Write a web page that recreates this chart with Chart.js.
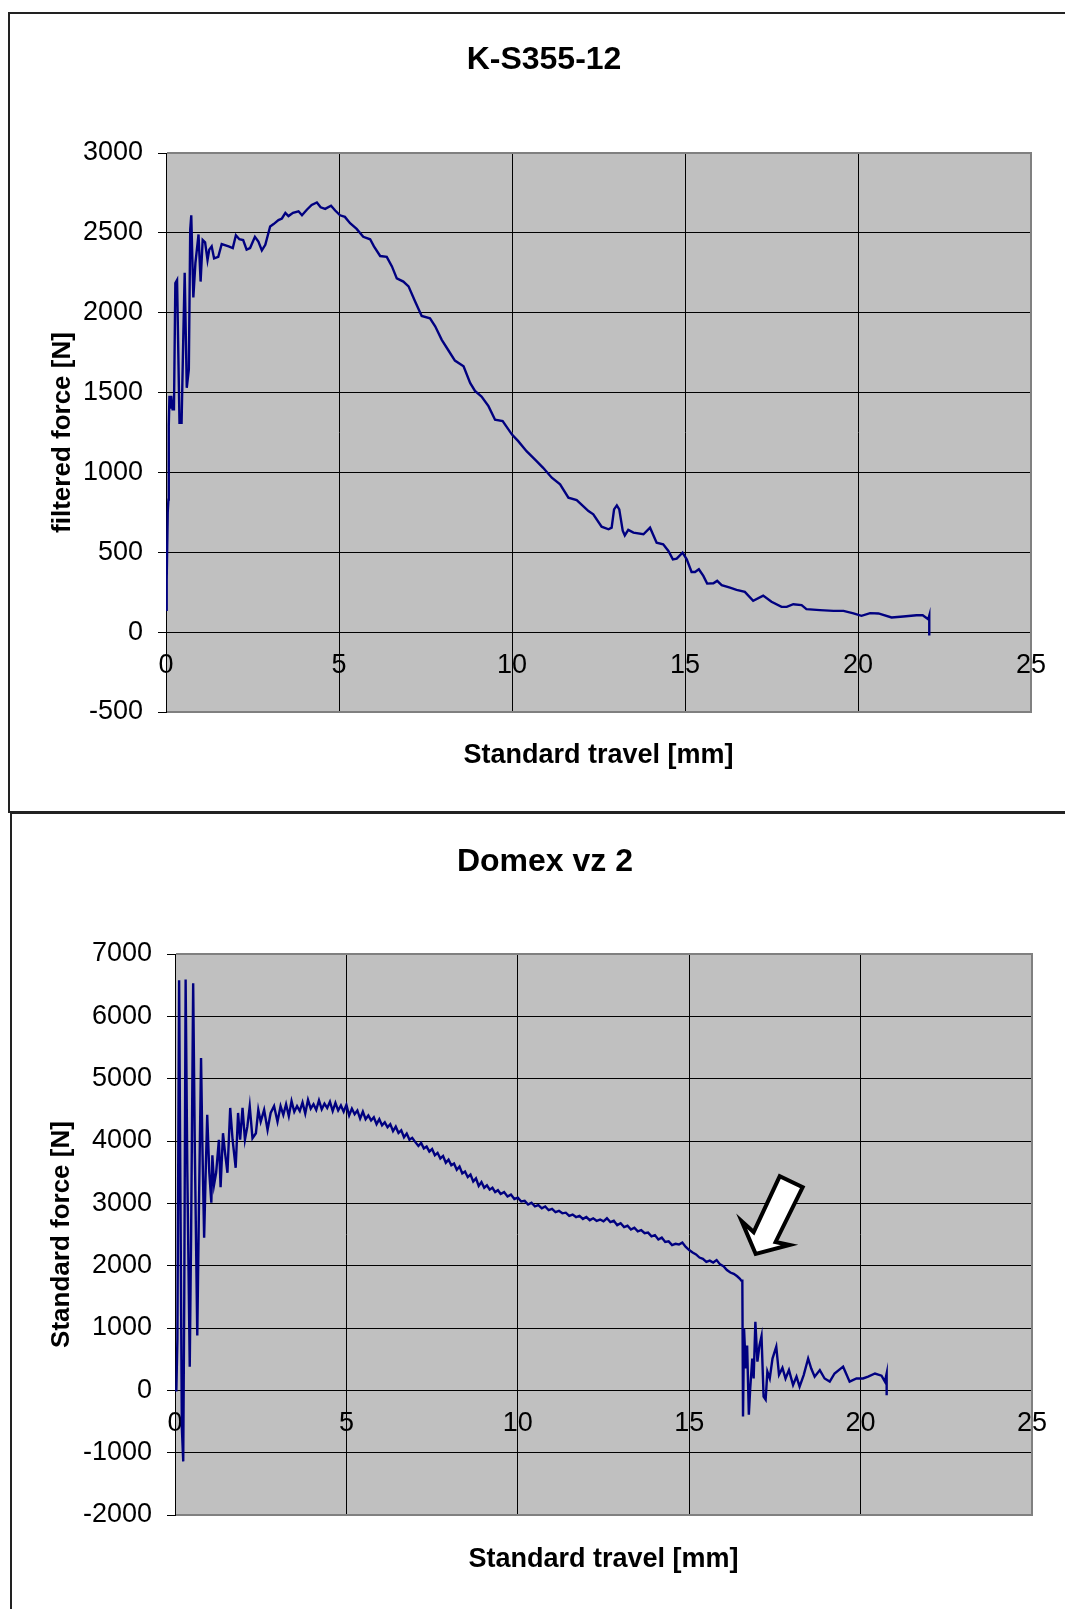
<!DOCTYPE html>
<html>
<head>
<meta charset="utf-8">
<script src="https://cdn.jsdelivr.net/npm/chart.js@4.4.1/dist/chart.umd.min.js"></script>
<style>
  html, body { margin:0; padding:0; background:#fff; overflow:hidden; width:1065px; height:1609px; }
  .panel { position:absolute; box-sizing:border-box; border:2px solid #222; background:#fff; }
  canvas { position:absolute; left:0; }
</style>
</head>
<body>
<div class="panel" style="left:8px;top:12px;width:1100px;height:801px;"></div>
<div class="panel" style="left:10px;top:812px;width:1100px;height:900px;"></div>
<canvas id="chartTop" width="1065" height="812" style="top:0px"></canvas>
<canvas id="chartBottom" width="1065" height="796" style="top:813px"></canvas>
<script>
// K-S355-12 : standard travel [mm] vs filtered force [N]
var travelA = [0.00,0.02,0.05,0.07,0.08,0.10,0.12,0.15,0.19,0.23,0.27,0.32,0.39,0.45,0.50,0.54,0.60,0.66,0.70,0.73,
  0.79,0.85,0.94,1.00,1.06,1.13,1.20,1.25,1.32,1.39,1.51,1.61,1.81,1.93,2.02,2.12,2.23,2.33,2.43,2.57,
  2.67,2.77,2.87,3.01,3.11,3.25,3.35,3.45,3.54,3.67,3.83,3.93,4.07,4.21,4.36,4.47,4.60,4.77,4.89,5.03,
  5.17,5.32,5.51,5.70,5.90,6.01,6.19,6.38,6.53,6.67,6.86,7.01,7.20,7.39,7.63,7.78,7.97,8.16,8.35,8.60,
  8.79,8.93,9.12,9.32,9.51,9.73,10.00,10.18,10.42,10.71,10.90,11.15,11.39,11.63,11.87,12.21,12.35,12.59,12.79,12.88,
  12.95,13.03,13.10,13.20,13.26,13.36,13.51,13.80,13.99,14.18,14.37,14.52,14.65,14.76,14.93,15.05,15.19,15.29,15.40,15.53,
  15.64,15.82,15.93,16.06,16.30,16.49,16.73,16.97,17.26,17.50,17.79,17.94,18.13,18.37,18.51,18.90,19.29,19.58,19.87,20.10,
  20.35,20.59,20.97,21.31,21.69,21.87,22.03,22.06,22.06];
var forceA = [140,330,750,830,1290,1480,1400,1480,1395,1395,2185,2205,1310,1310,1850,2250,1530,1645,2520,2610,
  2095,2310,2490,2195,2455,2440,2330,2395,2415,2340,2350,2430,2415,2405,2485,2460,2455,2395,2405,2475,
  2445,2390,2425,2540,2555,2580,2590,2625,2605,2625,2635,2610,2645,2675,2690,2660,2650,2670,2640,2610,
  2600,2560,2525,2475,2460,2415,2355,2350,2290,2215,2195,2165,2070,1980,1965,1915,1830,1765,1700,1665,
  1560,1510,1475,1415,1330,1321,1237,1196,1133,1071,1029,967,925,842,827,758,738,660,644,654,
  769,794,769,635,606,640,623,613,654,560,550,508,456,460,498,456,377,377,394,352,
  304,306,321,294,279,265,252,196,229,190,158,158,175,169,144,138,133,133,117,102,
  119,117,92,98,106,106,81,104,-21];

// Domex vz 2 : standard travel [mm] vs standard force [N]
var travelB = [0.00,0.04,0.07,0.12,0.16,0.20,0.24,0.27,0.31,0.36,0.43,0.47,0.53,0.58,0.65,0.70,0.76,0.80,0.85,0.90,
  0.94,1.00,1.06,1.09,1.14,1.20,1.28,1.33,1.40,1.46,1.53,1.61,1.68,1.77,1.84,1.90,1.97,2.04,2.11,2.18,
  2.26,2.36,2.43,2.50,2.60,2.70,2.79,2.89,2.99,3.08,3.16,3.24,3.32,3.40,3.48,3.56,3.64,3.72,3.80,3.88,
  3.96,4.04,4.12,4.20,4.28,4.36,4.44,4.52,4.60,4.68,4.76,4.84,4.92,5.00,5.08,5.16,5.24,5.32,5.40,5.48,
  5.56,5.64,5.72,5.80,5.88,5.96,6.04,6.12,6.20,6.28,6.36,6.44,6.52,6.60,6.68,6.76,6.84,6.92,7.00,7.10,
  7.18,7.26,7.34,7.42,7.50,7.58,7.66,7.74,7.82,7.90,7.98,8.06,8.14,8.22,8.30,8.38,8.46,8.54,8.62,8.70,
  8.78,8.86,8.94,9.02,9.10,9.18,9.26,9.34,9.42,9.50,9.60,9.70,9.80,9.90,10.00,10.10,10.20,10.30,10.40,10.50,
  10.60,10.70,10.80,10.90,11.00,11.10,11.20,11.30,11.40,11.50,11.60,11.70,11.80,11.90,12.00,12.10,12.20,12.30,12.40,12.50,
  12.60,12.70,12.80,12.90,13.00,13.10,13.20,13.30,13.40,13.50,13.60,13.70,13.80,13.90,14.00,14.10,14.20,14.30,14.40,14.50,
  14.60,14.70,14.80,14.90,15.00,15.10,15.20,15.30,15.40,15.50,15.60,15.70,15.80,15.90,16.00,16.10,16.20,16.30,16.40,16.48,
  16.52,16.55,16.57,16.60,16.65,16.69,16.74,16.78,16.84,16.88,16.93,16.99,17.05,17.11,17.17,17.23,17.28,17.35,17.43,17.54,
  17.62,17.72,17.81,17.91,18.03,18.13,18.22,18.34,18.47,18.56,18.66,18.81,18.95,19.10,19.24,19.49,19.68,19.88,20.07,20.22,
  20.42,20.61,20.71,20.76,20.76];
var forceB = [0,0,830,6580,3000,-600,-1140,1500,6590,3500,380,2500,6530,3800,880,3000,5330,3900,2450,3600,
  4420,3500,3010,3770,3300,3490,4020,3260,4125,3810,3490,4530,4020,3570,4450,4020,4530,4020,4230,4560,
  4045,4125,4500,4310,4500,4180,4450,4560,4310,4560,4420,4590,4400,4640,4470,4560,4480,4620,4440,4660,
  4520,4590,4500,4650,4510,4600,4530,4630,4480,4610,4490,4570,4470,4580,4410,4520,4430,4490,4360,4470,
  4350,4410,4330,4380,4270,4350,4250,4300,4220,4270,4160,4230,4130,4170,4060,4120,4020,4050,3990,3920,
  3970,3880,3910,3830,3870,3770,3810,3720,3760,3650,3700,3610,3640,3540,3590,3480,3510,3420,3460,3350,
  3400,3280,3340,3250,3290,3220,3250,3180,3210,3150,3180,3110,3140,3070,3090,3030,3040,2980,3010,2950,
  2970,2920,2950,2890,2910,2860,2880,2840,2850,2800,2820,2780,2800,2750,2780,2730,2760,2720,2740,2710,
  2760,2700,2720,2650,2680,2620,2640,2580,2610,2550,2570,2520,2530,2470,2490,2420,2450,2380,2390,2330,
  2350,2340,2370,2300,2250,2210,2180,2130,2110,2060,2080,2050,2090,2020,1990,1930,1890,1870,1830,1790,
  1760,1760,-420,990,350,720,-390,30,510,190,1100,460,720,870,-100,-150,300,190,510,700,
  250,360,190,325,85,220,60,245,510,350,220,325,190,140,270,380,140,190,190,220,
  270,235,140,270,-80];

// arrow annotation outline (data units of the Domex chart)
var arrowX = [16.94,16.53,16.88,17.64,18.31,17.52,17.93];
var arrowY = [2188,2715,2539,3434,3258,2380,2332];

var xTicksMax = 25;
var titleTop = 'K-S355-12';
var titleBottom = 'Domex vz 2';
var xTitle = 'Standard travel [mm]';

Chart.defaults.font.family = '"Liberation Sans", Arial, sans-serif';
Chart.defaults.color = '#000';

function toPoints(xs, ys){
  var pts = [];
  for(var i = 0; i < xs.length; i++) pts.push({x: xs[i], y: ys[i]});
  return pts;
}

// gray plot area with a gray frame on top, right and bottom (Excel look)
var plotFrame = {
  id: 'plotFrame',
  beforeDraw: function(chart){
    var a = chart.chartArea, ctx = chart.ctx;
    ctx.save();
    ctx.fillStyle = '#c0c0c0';
    ctx.fillRect(a.left, a.top, a.right - a.left, a.bottom - a.top);
    ctx.restore();
  },
  beforeDatasetsDraw: function(chart){
    var a = chart.chartArea, ctx = chart.ctx;
    ctx.save();
    ctx.strokeStyle = '#808080';
    ctx.lineWidth = 2;
    ctx.beginPath();
    ctx.moveTo(a.left + 1, a.top);
    ctx.lineTo(a.right, a.top);
    ctx.lineTo(a.right, a.bottom);
    ctx.lineTo(a.left + 1, a.bottom);
    ctx.stroke();
    ctx.restore();
  }
};

var arrowMark = {
  id: 'arrowMark',
  afterDatasetsDraw: function(chart){
    var ctx = chart.ctx, sx = chart.scales.x, sy = chart.scales.y;
    ctx.save();
    ctx.beginPath();
    for(var i = 0; i < arrowX.length; i++){
      var px = sx.getPixelForValue(arrowX[i]), py = sy.getPixelForValue(arrowY[i]);
      if(i == 0) ctx.moveTo(px, py); else ctx.lineTo(px, py);
    }
    ctx.closePath();
    ctx.fillStyle = '#fff';
    ctx.fill();
    ctx.lineWidth = 4;
    ctx.lineJoin = 'miter';
    ctx.strokeStyle = '#000';
    ctx.stroke();
    ctx.restore();
  }
};

function plainTick(v){ return String(v); }

function buildChart(canvasId, cfg){
  var edgeColor = function(lo, hi){
    return function(c){
      if(c.tick && (c.tick.value === lo || c.tick.value === hi)) return 'rgba(0,0,0,0)';
      return '#000';
    };
  };
  return new Chart(document.getElementById(canvasId), {
    type: 'scatter',
    data: {
      datasets: [{
        data: toPoints(cfg.xs, cfg.ys),
        showLine: true,
        borderColor: '#000080',
        borderWidth: 2.4,
        pointRadius: 0,
        tension: 0,
        fill: false
      }]
    },
    plugins: cfg.plugins,
    options: {
      responsive: false,
      animation: false,
      devicePixelRatio: 1,
      layout: { padding: cfg.pad },
      plugins: {
        legend: { display: false },
        tooltip: { enabled: false },
        title: {
          display: true,
          text: cfg.title,
          color: '#000',
          font: { size: 32, weight: 'bold' },
          padding: cfg.titlePad
        }
      },
      scales: {
        x: {
          type: 'linear',
          position: { y: 0 },
          min: 0, max: xTicksMax,
          ticks: { stepSize: 5, padding: 9, maxRotation: 0, color: '#000', font: { size: 27 }, callback: plainTick },
          grid: { color: edgeColor(-1, xTicksMax), tickColor: '#000', tickLength: 8, lineWidth: 1 },
          border: { color: '#000', width: 1 },
          afterFit: function(s){ s.height = 0; }
        },
        x2: {
          type: 'linear',
          position: 'bottom',
          min: 0, max: xTicksMax,
          ticks: { display: false },
          grid: { display: false, drawTicks: false },
          border: { display: false },
          title: { display: true, text: xTitle, color: '#000', font: { size: 27, weight: 'bold' }, padding: cfg.xTitlePad }
        },
        y: {
          type: 'linear',
          min: cfg.yMin, max: cfg.yMax,
          ticks: { stepSize: cfg.yStep, padding: 15, color: '#000', font: { size: 27 }, callback: plainTick },
          grid: { color: edgeColor(cfg.yMin, cfg.yMax), tickColor: '#000', tickLength: 8, lineWidth: 1 },
          border: { color: '#000', width: 1 },
          title: { display: true, text: cfg.yTitle, color: '#000', font: { size: 26, weight: 'bold' }, padding: cfg.yTitlePad },
          afterFit: function(s){ s.width = cfg.yWidth; }
        }
      }
    }
  });
}

buildChart('chartTop', {
  xs: travelA, ys: forceA,
  title: titleTop,
  yTitle: 'filtered force [N]',
  yMin: -500, yMax: 3000, yStep: 500,
  pad: { left: 57, right: 34, top: 0, bottom: 40 },
  titlePad: { top: 41, bottom: 73.6 },
  xTitlePad: { top: 27.6, bottom: 0 },
  yTitlePad: { top: -10, bottom: 0 },
  yWidth: 109,
  plugins: [plotFrame]
});

buildChart('chartBottom', {
  xs: travelB, ys: forceB,
  title: titleBottom,
  yTitle: 'Standard force [N]',
  yMin: -2000, yMax: 7000, yStep: 1000,
  pad: { left: 58, right: 33, top: 0, bottom: 33 },
  titlePad: { top: 30, bottom: 72.6 },
  xTitlePad: { top: 28.6, bottom: 0 },
  yTitlePad: { top: -12, bottom: 0 },
  yWidth: 117,
  plugins: [plotFrame, arrowMark]
});
</script>
</body>
</html>
